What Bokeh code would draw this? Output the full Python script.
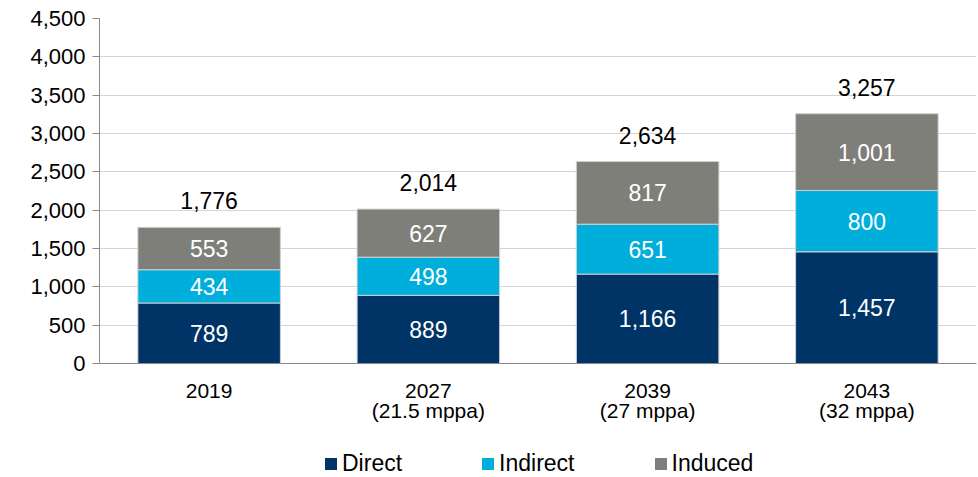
from bokeh.plotting import figure
from bokeh.layouts import column
from bokeh.models import (ColumnDataSource, NumeralTickFormatter, Legend, LegendItem, FixedTicker,
                          Range1d, FactorRange, CategoricalAxis)
from bokeh.core.properties import value
from bokeh.embed import file_html
from bokeh.resources import INLINE

years = ["2019", "2027", "2039", "2043"]
subtitles = [" ", "(21.5 mppa)", "(27 mppa)", "(32 mppa)"]
direct = [789, 889, 1166, 1457]
indirect = [434, 498, 651, 800]
induced = [553, 627, 817, 1001]
totals = [1776, 2014, 2634, 3257]
series = ["Direct", "Indirect", "Induced"]
colors = ["#003366", "#00AEDB", "#7F7F7A"]
yticks = [0, 500, 1000, 1500, 2000, 2500, 3000, 3500, 4000, 4500]

FONT = "Liberation Sans"

data = dict(x=years, Direct=direct, Indirect=indirect, Induced=induced)
data["d_mid"] = [d / 2 for d in direct]
data["i_mid"] = [d + i / 2 for d, i in zip(direct, indirect)]
data["n_mid"] = [d + i + n / 2 for d, i, n in zip(direct, indirect, induced)]
data["d_txt"] = [f"{v:,}" for v in direct]
data["i_txt"] = [f"{v:,}" for v in indirect]
data["n_txt"] = [f"{v:,}" for v in induced]
data["tot"] = totals
data["tot_txt"] = [f"{v:,}" for v in totals]
src = ColumnDataSource(data)

p = figure(x_range=FactorRange(*years), y_range=Range1d(0, 4500),
           frame_width=877, frame_height=345, output_backend="svg", toolbar_location=None,
           min_border_left=99, min_border_right=2, min_border_top=18, min_border_bottom=84)
p.extra_x_ranges = {"sub": FactorRange(*subtitles)}

r = p.vbar_stack(series, x="x", width=0.65, source=src, color=colors,
                 line_color="#d0d0d0", line_width=1)

for ycol, tcol in [("d_mid", "d_txt"), ("i_mid", "i_txt"), ("n_mid", "n_txt")]:
    p.text(x="x", y=ycol, text=tcol, source=src, text_color="white",
           text_font=value(FONT), text_font_size="23px",
           text_align="center", text_baseline="middle")

p.text(x="x", y="tot", text="tot_txt", source=src, text_color="black",
       text_font=value(FONT), text_font_size="23px",
       text_align="center", text_baseline="bottom", y_offset=-18)

p.outline_line_color = None
p.xgrid.grid_line_color = None
p.ygrid.grid_line_color = "#d4d4d4"
p.ygrid.ticker = FixedTicker(ticks=yticks)

p.yaxis.ticker = FixedTicker(ticks=yticks)
p.yaxis.formatter = NumeralTickFormatter(format="0,0")
p.yaxis.axis_line_color = "#898989"
p.yaxis.major_tick_line_color = "#898989"
p.yaxis.major_tick_out = 7
p.yaxis.major_tick_in = 0
p.yaxis.minor_tick_line_color = None
p.yaxis.major_label_text_font = FONT
p.yaxis.major_label_text_font_size = "22px"
p.yaxis.major_label_text_color = "black"
p.yaxis.major_label_standoff = 7

xa = p.xaxis[0]
xa.axis_line_color = "#898989"
xa.major_tick_line_color = None
xa.minor_tick_line_color = None
xa.major_tick_out = 0
xa.major_label_text_font = FONT
xa.major_label_text_font_size = "21px"
xa.major_label_text_color = "black"
xa.major_label_standoff = 20

xa2 = CategoricalAxis(x_range_name="sub",
                      axis_line_color=None, major_tick_line_color=None,
                      minor_tick_line_color=None, major_tick_out=0,
                      major_label_standoff=-2,
                      major_label_text_font=FONT, major_label_text_font_size="21px",
                      major_label_text_color="black")
p.add_layout(xa2, "below")

# legend strip
lg = figure(width=978, height=30, x_range=Range1d(0, 1), y_range=Range1d(0, 1),
            output_backend="svg", toolbar_location=None,
            min_border_left=0, min_border_right=0, min_border_top=0, min_border_bottom=0)
lg.axis.visible = False
lg.grid.visible = False
lg.outline_line_color = None
hidden = ColumnDataSource(dict(x=[-10], top=[-10]))
items = []
for s, c in zip(series, colors):
    rr = lg.vbar(x="x", top="top", bottom=-20, width=0.1, source=hidden,
                 fill_color=c, line_color=None)
    items.append(LegendItem(label=s, renderers=[rr]))
legend = Legend(items=items, orientation="horizontal", location=(224, 0),
                border_line_color=None, background_fill_alpha=0,
                label_text_font=FONT, label_text_font_size="23px",
                label_text_color="black",
                glyph_width=15, glyph_height=15, label_standoff=4,
                spacing=78, padding=0, margin=0)
lg.add_layout(legend, "center")

open("out.html", "w").write(file_html(column(p, lg, spacing=0), INLINE))
